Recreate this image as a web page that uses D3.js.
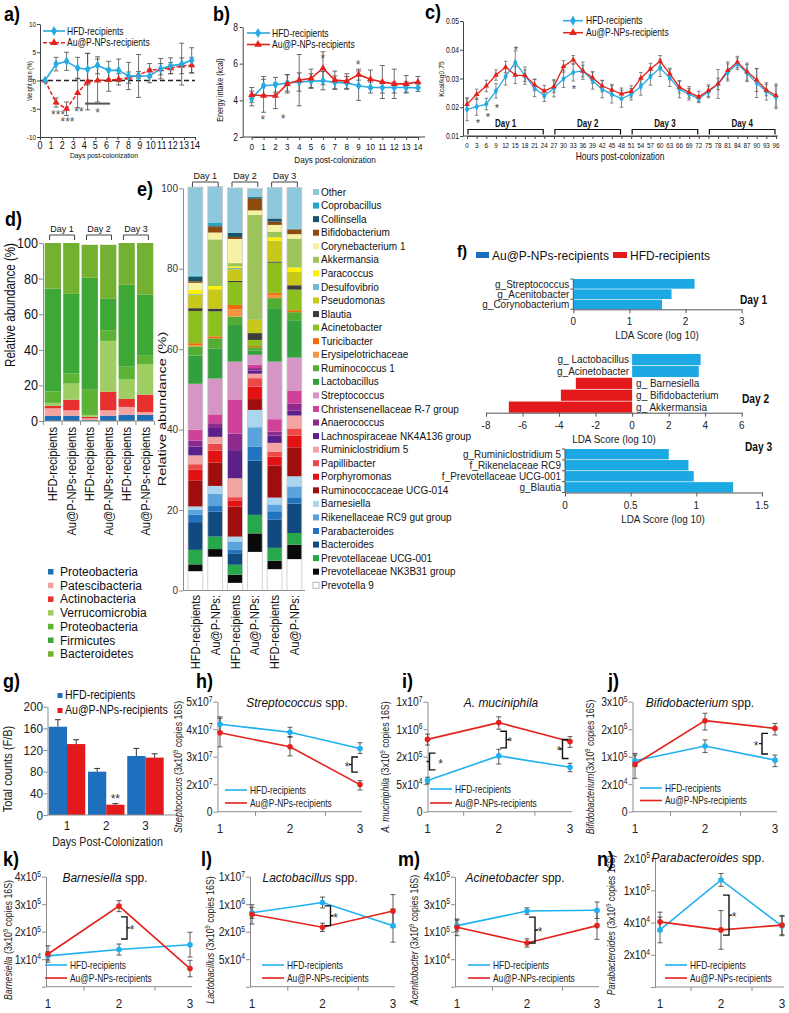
<!DOCTYPE html>
<html><head><meta charset="utf-8">
<script src="https://cdn.jsdelivr.net/npm/d3@7/dist/d3.min.js"></script>
<style>
html,body{margin:0;padding:0;background:#fff;}
svg{display:block;font-family:"Liberation Sans",Arial,Helvetica,sans-serif;}
</style></head><body>
<svg id="fig" width="789" height="1013" viewBox="0 0 789 1013"></svg>
<script>
// ================= DATA =================
// a) Weight gain (%)
const aDays   = [0.45,1.45,2.4,3.4,4.3,5.2,6.2,7.1,8.0,8.9,9.9,10.9,11.8,12.8,13.7];
const aHFD    = [0,2.9,3.4,2.2,2.0,2.7,1.8,1.8,0.8,0.8,0.8,2.1,2.6,2.9,3.6];
const aHFDerr = [0,1.2,1.6,1.9,2.8,1.5,1.6,2.0,2.4,3.8,1.2,1.8,1.4,3.7,2.2];
const aAu     = [0,-3.9,-5.0,-2.2,-0.2,0.0,0.1,0.2,0.5,1.0,1.8,2.0,2.2,2.6,2.7];
const aAuErr  = [0,0.8,1.2,2.6,5.0,3.8,2.0,1.0,1.0,0.6,1.2,1.0,1.0,1.4,1.4];
const aXTicks = [0,1,2,3,4,5,6,7,8,9,10,11,12,13,14];
const aYTicks = [-10,-5,0,5,10];
// b) Energy intake (kcal)
const bDays   = [0,1,2,3,4,5,6,7,8,9,10,11,12,13,14];
const bHFD    = [4.1,4.8,4.85,4.95,5.0,5.05,5.07,4.98,4.95,4.8,4.7,4.7,4.7,4.7,4.68];
const bHFDerr = [0.4,0.5,0.4,0.45,0.5,0.4,0.5,0.35,0.35,0.8,0.3,0.3,0.3,0.3,0.2];
const bAu     = [4.3,4.25,4.25,4.9,5.1,5.2,5.75,5.1,5.05,5.4,5.15,5.0,4.9,4.9,5.0];
const bAuErr  = [0.4,0.9,0.7,0.5,1.4,0.5,0.9,0.5,0.4,0.3,0.5,0.9,0.8,0.45,0.3];
const bYTicks = [2,4,6,8];
// c) Kcal/kg0.75 per 3 h
const cHours  = [0,3,6,9,12,15,18,21,24,27,30,33,36,39,42,45,48,51,54,57,60,63,66,69,72,75,78,81,84,87,90,93,96];
const cHFD    = [0.0193,0.0202,0.0211,0.0257,0.0307,0.0356,0.031,0.0267,0.024,0.0266,0.0299,0.0321,0.0327,0.0293,0.0263,0.0245,0.023,0.0245,0.0272,0.0307,0.0337,0.0302,0.0263,0.0245,0.023,0.0253,0.0281,0.0321,0.0351,0.0319,0.0284,0.0255,0.0235];
const cHFDerr = [0.004,0.003,0.002,0.0025,0.003,0.004,0.003,0.003,0.002,0.003,0.003,0.003,0.003,0.003,0.003,0.003,0.003,0.002,0.003,0.003,0.003,0.003,0.003,0.002,0.001,0.002,0.005,0.003,0.002,0.003,0.005,0.003,0.004];
const cAu     = [0.021,0.0245,0.0274,0.0312,0.034,0.0312,0.031,0.0278,0.0256,0.0272,0.0342,0.0365,0.0326,0.0303,0.0274,0.026,0.0247,0.0255,0.0301,0.0333,0.036,0.0316,0.027,0.0252,0.0236,0.0258,0.0281,0.0328,0.0357,0.0324,0.0295,0.026,0.0241];
const cAuErr  = [0.002,0.0018,0.002,0.0018,0.002,0.003,0.002,0.002,0.002,0.002,0.002,0.0015,0.002,0.002,0.002,0.002,0.002,0.002,0.002,0.002,0.002,0.002,0.002,0.002,0.002,0.002,0.002,0.003,0.002,0.003,0.004,0.002,0.004];
const cYTicks = [0.01,0.02,0.03,0.04,0.05];
const cDays   = ['Day 1','Day 2','Day 3','Day 4'];
const cDaySpan= [[0,24],[27,48],[51,72],[75,96]];
// d) phylum relative abundance (%), bottom -> top
const dBars    = ['HFD-recipients','Au@P-NPs-recipients','HFD-recipients','Au@P-NPs-recipients','HFD-recipients','Au@P-NPs-recipients'];
const dPhyla   = ['Proteobacteria','Patescibacteria','Actinobacteria','Verrucomicrobia','Proteobacteria','Firmicutes','Bacteroidetes'];
const dProteo  = [2.8,3,0.5,3,3.5,3.5];
const dPatesci = [4.3,3,1.0,3,4.4,1.5];
const dActino  = [1.4,6,0.8,10.5,4.5,9.8];
const dVerruco = [1.7,9,1.1,28.5,10.9,17.2];
const dProteo2 = [6.3,5.7,14.5,6,7.2,5];
const dFirmi   = [57.9,44.7,62.6,17.6,46,33.9];
const dBacter  = [25.6,28.6,18.5,30.4,23.5,29.1];
const dTicks   = [0,20,40,60,80,100];
// e) genus relative abundance (%), legend order (top of bar first)
const eGenera = ['Other','Coprobacillus','Collinsella','Bifidobacterium','Corynebacterium 1','Akkermansia','Paracoccus','Desulfovibrio','Pseudomonas','Blautia','Acinetobacter','Turicibacter','Erysipelotrichaceae','Ruminococcus 1','Lactobacillus','Streptococcus','Christensenellaceae R-7 group','Anaerococcus','Lachnospiraceae NK4A136 group','Ruminiclostridium 5','Papillibacter','Porphyromonas','Ruminococcaceae UCG-014','Barnesiella','Rikenellaceae RC9 gut group','Parabacteroides','Bacteroides','Prevotellaceae UCG-001','Prevotellaceae NK3B31 group','Prevotella 9'];
const eBarLabels = ['HFD-recipients','Au@P-NPs:','HFD-recipients','Au@P-NPs:','HFD-recipients','Au@P-NPs:'];
const eBar1 = [22.0,0.3,1.1,0.4,1.7,0,1.1,0.2,3.3,0.7,8.0,0.6,0.2,2.3,7.0,11.4,2.7,1.5,2.2,2.2,1.3,2.7,6.5,0.8,1.2,1.9,6.9,3.6,1.7,4.8];
const eBar2 = [8.9,0.7,0.3,1.5,1.7,11.6,0.8,0,4.8,0.7,6.2,0.5,0,2.5,7.5,8.9,2.2,1.2,2.2,1.7,1.7,3.0,5.8,2.0,3.0,1.4,6.2,3.1,1.9,8.4];
const eBar3 = [11.2,0,1.0,0.5,6.0,0.8,0.4,0.3,2.9,0.3,5.7,1.1,1.8,2.1,9.1,9.4,8.5,4.1,7.0,4.7,0.8,1.5,7.5,1.2,2.1,1.0,2.7,2.5,2.0,1.9];
const eBar4 = [2.2,0,0.4,2.9,1.1,26.1,0,0,3.3,1.7,1.5,0.3,0,0.8,1.1,2.5,0.8,0.6,0.8,1.1,2.1,3.1,2.7,4.3,4.8,3.5,13.5,4.6,4.6,9.6];
const eBar5 = [7.7,0,0.8,0.8,1.7,1.4,0.8,0,5.2,0.3,7.5,0.5,0.8,2.5,13.3,14.3,3.1,1.0,1.8,2.2,1.2,2.2,8.0,1.7,1.7,2.1,7.0,3.2,2.1,5.3];
const eBar6 = [10.2,0.2,0,1.2,1.1,7.2,1.1,0,3.3,1.1,5.1,0.5,0,2.0,9.3,8.3,3.1,1.8,1.2,3.2,1.8,2.9,7.2,2.5,2.9,1.4,7.3,2.9,3.6,7.8];
const eTicks = [0,20,40,60,80,100];
// f) LEfSe LDA scores (log 10)
const f1Names = ['g_Streptococcus','g_Acenitobacter','g_Corynobacterium'];
const f1Vals  = [2.16,1.75,1.58];
const f2Names = ['g_ Lactobacillus','g_Acinetobacter','g_ Barnesiella','g_ Bifidobacterium','g_ Akkermansia'];
const f2Vals  = [3.75,3.65,-3.08,-3.9,-6.75];
const f3Names = ['g_Ruminiclostridium 5','f_Rikenelaceae RC9','f_Prevotellaceae UCG-001','g_Blautia'];
const f3Vals  = [0.79,0.94,0.98,1.28];
// g) F/B ratio
const gDays   = ['1','2','3'];
const gHFD    = [163,80,109];
const gHFDerr = [13,6,14];
const gAu     = [131,19,106];
const gAuErr  = [8,2,7];
const gTicks  = [0,40,80,120,160,200];
// h) Streptococcus spp.
const hTicks = [0,2e7,3e7,4e7,5e7];
const hHFD = [4.18e7,3.89e7,3.3e7], hHFDlo=[3.91e7,3.71e7,3.12e7], hHFDhi=[4.45e7,4.07e7,3.51e7];
const hAu  = [3.87e7,3.36e7,1.97e7], hAulo=[3.36e7,3.03e7,1.58e7], hAuhi=[4.4e7,3.73e7,2.13e7];
// i) A. muciniphila
const iTicks = [0,5e4,2e5,1e6,1e7];
const iHFD = [7e4,2.24e5,1.42e5], iHFDlo=[5.2e4,1.6e5,1.18e5], iHFDhi=[8.8e4,4.16e5,1.64e5];
const iAu  = [7.04e5,3.16e6,6.4e5], iAulo=[5.4e5,1e6,4.72e5], iAuhi=[8.6e5,5.05e6,7.84e5];
// j) Bifidobacterium spp.
const jTicks = [0,2e4,1e5,2e5,3e5];
const jHFD = [8.8e4,1.39e5,9.0e4], jHFDlo=[7.1e4,1.15e5,7.1e4], jHFDhi=[1.12e5,1.61e5,1.06e5];
const jAu  = [7.8e4,2.31e5,2.03e5], jAulo=[3.7e4,1.97e5,1.79e5], jAuhi=[1.06e5,2.58e5,2.21e5];
// k) Barnesiella spp.
const kTicks = [0,1e4,2e5,3e5,4e5];
const kHFD = [3.3e4,7.7e4,1.1e5], kHFDlo=[9.7e3,3.85e4,2.5e4], kHFDhi=[6.1e4,1.15e5,1.96e5];
const kAu  = [4.6e4,2.93e5,6.6e3], kAulo=[8.9e3,2.73e5,3.6e3], kAuhi=[1.03e5,3.13e5,9.6e3];
// l) Lactobacillus spp.
const lTicks = [0,5e4,2e5,1e6,1e7];
const lHFD = [7.5e5,1.54e6,3.76e5], lHFDlo=[5.9e5,8.9e5,1.43e5], lHFDhi=[9.1e5,3.34e6,8.56e5];
const lAu  = [7.04e5,3.28e5,8.0e5], lAulo=[4.24e5,2.08e5,3.2e5], lAuhi=[9.84e5,4.48e5,4.15e6];
// m) Acinetobacter spp.
const mTicks = [0,1e4,1e5,3e5,4e5];
const mHFD = [1.44e5,2.5e5,2.56e5], mHFDlo=[1.04e5,2.26e5,1.96e5], mHFDhi=[1.84e5,2.74e5,3.08e5];
const mAu  = [1.32e5,6.3e4,1.44e5], mAulo=[8.7e4,4.96e4,7.5e4], mAuhi=[1.92e5,7.66e4,2.44e5];
// n) Parabacteroides spp.
const nTicks = [0,2e4,4e4,1e5,2e5];
const nHFD = [3.54e4,1.32e5,3.78e4], nHFDlo=[2.74e4,1.12e5,3.18e4], nHFDhi=[5.02e4,1.52e5,5.14e4];
const nAu  = [4.12e4,3.54e4,3.84e4], nAulo=[3.44e4,2.34e4,3.24e4], nAuhi=[5.92e4,6.22e4,5.32e4];

// ================= DRAWING =================
const svg = d3.select('#fig');
svg.append('rect').attr('width',789).attr('height',1013).attr('fill','#fff');
const C_BLUE='#27a9e1', C_RED='#e3231c', C_ERR='#4a4a4a', C_AX='#8c8c8c';

function T(g,x,y,s,o={}){
  let tr=`translate(${x},${y})`;
  if(o.r) tr+=` rotate(${o.r})`;
  if(o.c && o.c!==1) tr+=` scale(${o.c},1)`;
  const t=g.append('text').attr('transform',tr).attr('font-size',o.fs||10)
    .attr('text-anchor',o.a||'start').attr('fill',o.col||'#111');
  if(o.b) t.attr('font-weight','bold');
  if(o.i) t.attr('font-style','italic');
  const parts=Array.isArray(s)?s:[{t:String(s)}];
  let prevSup=false;
  parts.forEach(p=>{
    const sp=t.append('tspan').text(p.t);
    if(p.i) sp.attr('font-style','italic');
    if(p.sup){sp.attr('font-size','0.65em').attr('dy','-0.55em');}
    else if(prevSup){sp.attr('dy','0.36em');}
    prevSup=!!p.sup;
  });
  return t;
}
function styleAxis(sel,col,w){sel.selectAll('path,line').attr('stroke',col).attr('stroke-width',w||1);sel.selectAll('text').remove();return sel;}
function errBar(g,xx,y1,y2,cap,col,w){
  cap=cap||2.5;col=col||C_ERR;w=w||0.8;
  g.append('line').attr('x1',xx).attr('x2',xx).attr('y1',y1).attr('y2',y2).attr('stroke',col).attr('stroke-width',w);
  [y1,y2].forEach(yy=>g.append('line').attr('x1',xx-cap).attr('x2',xx+cap).attr('y1',yy).attr('y2',yy).attr('stroke',col).attr('stroke-width',w));
}
function mark(g,type,xx,yy,size,col){
  g.append('path').attr('d',d3.symbol().type(type).size(size)()).attr('transform',`translate(${xx},${yy})`).attr('fill',col);
}
function panelLabel(x,y,s,fs){T(svg,x,y,s,{fs:fs||20,b:true,c:0.9,col:'#000'});}

// ---------- a) ----------
{
  const g=svg.append('g');
  const x=d3.scaleLinear().domain([0,14]).range([40,195]);
  const y=d3.scaleLinear().domain([-10,10]).range([137,24]);
  styleAxis(g.append('g').attr('transform','translate(40,0)').call(d3.axisLeft(y).tickValues(aYTicks).tickSize(3).tickSizeOuter(0)),'#444');
  styleAxis(g.append('g').attr('transform','translate(0,137)').call(d3.axisBottom(x).tickValues(aXTicks).tickSize(3).tickSizeOuter(0)),'#444');
  aYTicks.forEach(v=>T(g,36,y(v)+3,v,{fs:8,a:'end',c:0.8}));
  aXTicks.forEach(v=>T(g,x(v),149,v,{fs:10,a:'middle',c:0.9}));
  g.append('line').attr('x1',x(0)).attr('x2',x(14)).attr('y1',y(0)).attr('y2',y(0)).attr('stroke','#222').attr('stroke-width',1.6).attr('stroke-dasharray','5,3');
  aDays.forEach((d,i)=>{
    if(aHFDerr[i]) errBar(g,x(d),y(aHFD[i]-aHFDerr[i]),y(aHFD[i]+aHFDerr[i]));
    if(aAuErr[i]) errBar(g,x(d),y(aAu[i]-aAuErr[i]),y(aAu[i]+aAuErr[i]));
  });
  const ln=d3.line().x((d,i)=>x(aDays[i])).y(d=>y(d));
  g.append('path').datum(aAu).attr('d',ln).attr('fill','none').attr('stroke',C_RED).attr('stroke-width',1.5).attr('stroke-dasharray','4,2');
  g.append('path').datum(aHFD).attr('d',ln).attr('fill','none').attr('stroke',C_BLUE).attr('stroke-width',1.6);
  aDays.forEach((d,i)=>{mark(g,d3.symbolTriangle,x(d),y(aAu[i]),22,C_RED);mark(g,d3.symbolDiamond,x(d),y(aHFD[i]),26,C_BLUE);});
  [[1.63,-5.68,'***'],[2.48,-6.93,'***'],[3.52,-5.15,'**'],[5.21,-5.33,'*']].forEach(s=>T(g,x(s[0]),y(s[1])+6,s[2],{fs:12,a:'middle',col:'#555'}));
  g.append('line').attr('x1',x(4.07)).attr('x2',x(6.32)).attr('y1',y(-4.09)).attr('y2',y(-4.09)).attr('stroke','#555').attr('stroke-width',2);
  g.append('line').attr('x1',43).attr('x2',65).attr('y1',31).attr('y2',31).attr('stroke',C_BLUE).attr('stroke-width',1.6);
  mark(g,d3.symbolDiamond,54,31,30,C_BLUE);
  g.append('line').attr('x1',43).attr('x2',65).attr('y1',42.7).attr('y2',42.7).attr('stroke',C_RED).attr('stroke-width',1.5).attr('stroke-dasharray','4,2');
  mark(g,d3.symbolTriangle,54,42.7,26,C_RED);
  T(g,67,34.5,'HFD-recipients',{fs:10,c:0.85});
  T(g,67,46.2,'Au@P-NPs-recipients',{fs:10,c:0.85});
  T(g,32,81,'Weight gain (%)',{r:-90,a:'middle',fs:7,c:0.8});
  T(g,104,158,'Days post-colonization',{fs:8,a:'middle',c:0.85});
  panelLabel(4,21,'a)');
}
// ---------- b) ----------
{
  const g=svg.append('g');
  const x=d3.scaleLinear().domain([0,14]).range([251.7,418]);
  const y=d3.scaleLinear().domain([2,8]).range([137,27]);
  styleAxis(g.append('g').attr('transform','translate(242.7,0)').call(d3.axisLeft(y).tickValues(bYTicks).tickSize(3).tickSizeOuter(0)),'#444');
  g.append('line').attr('x1',242.7).attr('x2',425).attr('y1',137).attr('y2',137).attr('stroke','#444');
  styleAxis(g.append('g').attr('transform','translate(0,137)').call(d3.axisBottom(x).tickValues(bDays).tickSize(3).tickSizeOuter(0)),'#444');
  bYTicks.forEach(v=>T(g,238,y(v)+3.5,v,{fs:10,a:'end',c:0.85}));
  bDays.forEach(v=>T(g,x(v),150,v,{fs:9.5,a:'middle',c:0.85}));
  bDays.forEach((d,i)=>{
    errBar(g,x(d),y(bHFD[i]-bHFDerr[i]),y(bHFD[i]+bHFDerr[i]));
    errBar(g,x(d),y(bAu[i]-bAuErr[i]),y(bAu[i]+bAuErr[i]));
  });
  const ln=d3.line().x((d,i)=>x(bDays[i])).y(d=>y(d));
  g.append('path').datum(bHFD).attr('d',ln).attr('fill','none').attr('stroke',C_BLUE).attr('stroke-width',1.6);
  g.append('path').datum(bAu).attr('d',ln).attr('fill','none').attr('stroke',C_RED).attr('stroke-width',1.6);
  bDays.forEach((d,i)=>{mark(g,d3.symbolDiamond,x(d),y(bHFD[i]),26,C_BLUE);mark(g,d3.symbolTriangle,x(d),y(bAu[i]),22,C_RED);});
  [[0.93,3.04],[2.64,3.09],[5.99,6.36],[8.96,6.04]].forEach(s=>T(g,x(s[0]),y(s[1])+6,'*',{fs:12,a:'middle',col:'#555'}));
  g.append('line').attr('x1',247).attr('x2',270).attr('y1',33).attr('y2',33).attr('stroke',C_BLUE).attr('stroke-width',1.6);
  mark(g,d3.symbolDiamond,258,33,30,C_BLUE);
  g.append('line').attr('x1',247).attr('x2',270).attr('y1',44.5).attr('y2',44.5).attr('stroke',C_RED).attr('stroke-width',1.6);
  mark(g,d3.symbolTriangle,258,44.5,26,C_RED);
  T(g,272,36.5,'HFD-recipients',{fs:10,c:0.85});
  T(g,272,48,'Au@P-NPs-recipients',{fs:10,c:0.85});
  T(g,223,90,'Energy intake (kcal)',{r:-90,a:'middle',fs:9,c:0.8});
  T(g,335,163,'Days post-colonization',{fs:9,a:'middle',c:0.9});
  panelLabel(213,21,'b)');
}
// ---------- c) ----------
{
  const g=svg.append('g');
  const x=d3.scaleLinear().domain([0,96]).range([467,776]);
  const y=d3.scaleLinear().domain([0.01,0.05]).range([136,21]);
  styleAxis(g.append('g').attr('transform','translate(463,0)').call(d3.axisLeft(y).tickValues(cYTicks).tickSize(3).tickSizeOuter(0)),'#444');
  g.append('line').attr('x1',463).attr('x2',778).attr('y1',136).attr('y2',136).attr('stroke','#444');
  styleAxis(g.append('g').attr('transform','translate(0,136)').call(d3.axisBottom(x).tickValues(cHours).tickSize(3).tickSizeOuter(0)),'#444');
  cYTicks.forEach(v=>T(g,459,y(v)+3,d3.format('.2f')(v),{fs:9,a:'end',c:0.75}));
  cHours.forEach(v=>T(g,x(v),148,v,{fs:8,a:'middle',c:0.78}));
  cHours.forEach((d,i)=>{
    errBar(g,x(d),y(cHFD[i]-cHFDerr[i]),y(cHFD[i]+cHFDerr[i]),1.8,'#555',0.7);
    errBar(g,x(d),y(cAu[i]-cAuErr[i]),y(cAu[i]+cAuErr[i]),1.8,'#555',0.7);
  });
  const ln=d3.line().x((d,i)=>x(cHours[i])).y(d=>y(d));
  g.append('path').datum(cHFD).attr('d',ln).attr('fill','none').attr('stroke',C_BLUE).attr('stroke-width',1.3);
  g.append('path').datum(cAu).attr('d',ln).attr('fill','none').attr('stroke',C_RED).attr('stroke-width',1.3);
  cHours.forEach((d,i)=>{mark(g,d3.symbolDiamond,x(d),y(cHFD[i]),16,C_BLUE);mark(g,d3.symbolTriangle,x(d),y(cAu[i]),14,C_RED);});
  [[3.4,0.0152],[6.5,0.0173],[9.3,0.0201],[15.2,0.0403],[33.2,0.027]].forEach(s=>T(g,x(s[0]),y(s[1])+5.5,'*',{fs:11,a:'middle',col:'#444'}));
  cDays.forEach((dn,i)=>{
    const a=x(cDaySpan[i][0])+1,b=x(cDaySpan[i][1])-1;
    g.append('path').attr('d',`M${a},134.5 L${a},129.5 L${b},129.5 L${b},134.5`).attr('fill','none').attr('stroke','#111').attr('stroke-width',1.2);
    T(g,(a+b)/2,126.5,dn,{fs:10,b:true,a:'middle',c:0.8});
  });
  g.append('line').attr('x1',563).attr('x2',583).attr('y1',20.7).attr('y2',20.7).attr('stroke',C_BLUE).attr('stroke-width',1.5);
  mark(g,d3.symbolDiamond,573,20.7,30,C_BLUE);
  g.append('line').attr('x1',563).attr('x2',583).attr('y1',32.7).attr('y2',32.7).attr('stroke',C_RED).attr('stroke-width',1.5);
  mark(g,d3.symbolTriangle,573,32.7,26,C_RED);
  T(g,586,24.2,'HFD-recipients',{fs:10,c:0.85});
  T(g,586,36.2,'Au@P-NPs-recipients',{fs:10,c:0.85});
  T(g,444,79,'Kcal/kg0.75',{r:-90,a:'middle',fs:8,c:0.85});
  T(g,620,160,'Hours post-colonization',{fs:10,a:'middle',c:0.85});
  panelLabel(425,19,'c)');
}
// ---------- d) ----------
{
  const g=svg.append('g');
  const dColors=['#1f6db5','#f4a3a3','#e8302e','#9ecd64','#5db335','#3ea836','#74b133'];
  const dSeries=[dProteo,dPatesci,dActino,dVerruco,dProteo2,dFirmi,dBacter];
  const rows=dBars.map((b,i)=>{const r={};dSeries.forEach((s,k)=>r[k]=s[i]);return r;});
  const stack=d3.stack().keys(d3.range(dSeries.length))(rows);
  const x=d3.scaleBand().domain(d3.range(dBars.length)).range([44,154]).paddingInner(0.12).paddingOuter(0.04);
  const y=d3.scaleLinear().domain([0,100]).range([421,243]);
  stack.forEach((layer,k)=>layer.forEach((seg,i)=>{
    g.append('rect').attr('x',x(i)).attr('width',x.bandwidth()).attr('y',y(seg[1])).attr('height',Math.max(0,y(seg[0])-y(seg[1]))).attr('fill',dColors[k]);
  }));
  styleAxis(g.append('g').attr('transform','translate(43,0)').call(d3.axisLeft(y).tickValues(dTicks).tickSize(4).tickSizeOuter(0)),C_AX);
  g.append('line').attr('x1',43).attr('x2',154).attr('y1',421).attr('y2',421).attr('stroke',C_AX);
  const bnd=d3.range(dBars.length+1).map(i=>i<dBars.length?x(i)-x.step()*x.paddingInner()/2:x(dBars.length-1)+x.bandwidth()+x.step()*x.paddingInner()/2);
  bnd.forEach(bx=>g.append('line').attr('x1',bx).attr('x2',bx).attr('y1',421).attr('y2',425).attr('stroke',C_AX));
  dTicks.forEach(v=>T(g,38,y(v)+5,v,{fs:14,a:'end',c:0.9}));
  dBars.forEach((b,i)=>T(g,x(i)+x.bandwidth()/2+4.5,427,b,{r:-90,a:'end',fs:12,c:0.93}));
  ['Day 1','Day 2','Day 3'].forEach((dn,k)=>{
    const a=x(2*k)+x.bandwidth()*0.3,b=x(2*k+1)+x.bandwidth()*0.7;
    g.append('path').attr('d',`M${a},240 L${a},235 L${b},235 L${b},240`).attr('fill','none').attr('stroke','#444').attr('stroke-width',1);
    T(g,(a+b)/2,231.5,dn,{fs:9,a:'middle'});
  });
  T(g,15,305,'Relative abundance  (%)',{r:-90,a:'middle',fs:14,c:0.83});
  dPhyla.forEach((p,k)=>{
    const yy=572+k*13.7;
    g.append('rect').attr('x',48).attr('y',yy-3).attr('width',5.5).attr('height',5.5).attr('fill',dColors[k]);
    T(g,60,yy+4,p,{fs:12});
  });
  panelLabel(5,226,'d)');
}
// ---------- e) ----------
{
  const g=svg.append('g');
  const eColors=['#8ec8dc','#1fa5c8','#17556a','#8c4a0c','#f6f1a3','#9cc45a','#fff200','#74b8d8','#c8c81a','#3c3c3c','#8dbf1e','#ef6c0c','#f29442','#52ae32','#32a03c','#d595c5','#d0429a','#8e2a8e','#5b2089','#f4a3a3','#ec4848','#e31212','#a00d0d','#acd6f0','#5aa3dc','#2374c0','#114a80','#27a84a','#0a0a0a','#ffffff'];
  const bars=[eBar1,eBar2,eBar3,eBar4,eBar5,eBar6];
  const keys=eGenera.map((n,i)=>i).reverse();
  const rows=bars.map(b=>{const r={};eGenera.forEach((n,i)=>r[i]=b[i]);return r;});
  const stack=d3.stack().keys(keys)(rows);
  const x=d3.scaleBand().domain(d3.range(6)).range([186,303.8]).paddingInner(0.25).paddingOuter(0.1);
  const y=d3.scaleLinear().domain([0,100]).range([590.5,188.3]);
  stack.forEach(layer=>{const k=layer.key;layer.forEach((seg,i)=>{
    const h=y(seg[0])-y(seg[1]); if(h<=0) return;
    g.append('rect').attr('x',x(i)).attr('width',x.bandwidth()).attr('y',y(seg[1])).attr('height',h).attr('fill',eColors[k]);
  });});
  bars.forEach((b,i)=>g.append('rect').attr('x',x(i)).attr('width',x.bandwidth()).attr('y',y(d3.sum(b))).attr('height',y(0)-y(d3.sum(b))).attr('fill','none').attr('stroke','#c8c8c8').attr('stroke-width',0.8));
  styleAxis(g.append('g').attr('transform','translate(183,0)').call(d3.axisLeft(y).tickValues(eTicks).tickSize(4).tickSizeOuter(0)),C_AX);
  g.append('line').attr('x1',183).attr('x2',305).attr('y1',590.5).attr('y2',590.5).attr('stroke',C_AX);
  eTicks.forEach(v=>T(g,178,y(v)+3.5,v,{fs:10,a:'end',col:'#333'}));
  eBarLabels.forEach((b,i)=>T(g,x(i)+x.bandwidth()/2+4.5,595,b,{r:-90,a:'end',fs:12,c:0.93}));
  ['Day 1','Day 2','Day 3'].forEach((dn,k)=>{
    const a=x(2*k)+x.bandwidth()*0.3,b=x(2*k+1)+x.bandwidth()*0.7;
    g.append('path').attr('d',`M${a},187 L${a},182 L${b},182 L${b},187`).attr('fill','none').attr('stroke','#444').attr('stroke-width',1);
    T(g,(a+b)/2,179,dn,{fs:9,a:'middle'});
  });
  T(g,166,409,'Relative abundance (%)',{r:-90,a:'middle',fs:10,c:1.45});
  eGenera.forEach((n,k)=>{
    const yy=192+k*13.56;
    g.append('rect').attr('x',313).attr('y',yy-3).attr('width',6).attr('height',6).attr('fill',eColors[k]).attr('stroke',k===eGenera.length-1?'#999':'none').attr('stroke-width',0.7);
    T(g,321,yy+3.6,n,{fs:10});
  });
  panelLabel(137,196,'e)');
}
// ---------- f) ----------
{
  const g=svg.append('g');
  const FB='#1ca9e3', FR='#e3191b';
  function lda(names,vals,dom,xr,yr,axisY,ticks,titleCx,dayLab,dayX,dayY,leftAxis){
    const x=d3.scaleLinear().domain(dom).range(xr);
    const y=d3.scaleBand().domain(names).range(yr).paddingInner(0.06);
    names.forEach((nm,i)=>{
      const v=vals[i];
      g.append('rect').attr('x',x(Math.min(0,v))).attr('width',Math.abs(x(v)-x(0))).attr('y',y(nm)).attr('height',y.bandwidth()).attr('fill',v>=0?FB:FR);
      if(v>=0) T(g,x(0)-(leftAxis?4:3),y(nm)+y.bandwidth()/2+3.8,nm,{fs:10.5,a:'end',c:0.95,col:'#222'});
      else T(g,x(0)+4,y(nm)+y.bandwidth()/2+3.8,nm,{fs:10.5,c:0.95,col:'#222'});
    });
    styleAxis(g.append('g').attr('transform',`translate(0,${axisY})`).call(d3.axisBottom(x).tickValues(ticks).tickSize(4).tickSizeOuter(0)),'#555');
    ticks.forEach(t=>T(g,x(t),axisY+16,t,{fs:11,a:'middle',c:0.9,col:'#222'}));
    if(leftAxis){
      g.append('line').attr('x1',x(0)).attr('x2',x(0)).attr('y1',yr[0]).attr('y2',yr[1]).attr('stroke','#555');
      d3.range(names.length+1).forEach(i=>{const yy=yr[0]+i*(yr[1]-yr[0])/names.length;g.append('line').attr('x1',x(0)-3).attr('x2',x(0)).attr('y1',yy).attr('y2',yy).attr('stroke','#555');});
    }
    T(g,titleCx,axisY+30,'LDA Score (log 10)',{fs:11,a:'middle',c:0.9,col:'#222'});
    T(g,dayX,dayY,dayLab,{fs:12,b:true,c:0.85});
  }
  lda(f1Names,f1Vals,[0,3],[573.3,741.7],[279,309.3],309.3,[0,1,2,3],657,'Day 1',740,304,true);
  lda(f2Names,f2Vals,[-8,6],[486,741.7],[354,412.7],412.7,[-8,-6,-4,-2,0,2,4,6],614,'Day 2',742,403,false);
  lda(f3Names,f3Vals,[0,1.5],[565,762],[449,492.5],492.5,[0,0.5,1,1.5],663,'Day 3',745,451,true);
  g.append('rect').attr('x',476).attr('y',252).attr('width',13).attr('height',6).attr('fill','#1b6fbf');
  T(g,492,260,'Au@P-NPs-recipients',{fs:12});
  g.append('rect').attr('x',613).attr('y',252).attr('width',14).attr('height',6).attr('fill',FR);
  T(g,630,260,'HFD-recipients',{fs:12});
  panelLabel(457,257,'f)',17);
}
// ---------- g) ----------
{
  const g=svg.append('g');
  const GB='#1f6fbf', GR='#e3191b';
  const x0=d3.scaleBand().domain(gDays).range([48,164.5]).paddingInner(0.07).paddingOuter(0.02);
  const x1=d3.scaleBand().domain(['HFD','Au']).range([0,x0.bandwidth()]);
  const y=d3.scaleLinear().domain([0,200]).range([815,706.7]);
  gDays.forEach((d,i)=>{
    [[gHFD,gHFDerr,'HFD',GB],[gAu,gAuErr,'Au',GR]].forEach(([v,e,k,col])=>{
      const bx=x0(d)+x1(k);
      g.append('rect').attr('x',bx).attr('width',x1.bandwidth()).attr('y',y(v[i])).attr('height',y(0)-y(v[i])).attr('fill',col);
      const cx=bx+x1.bandwidth()/2;
      g.append('line').attr('x1',cx).attr('x2',cx).attr('y1',y(v[i])).attr('y2',y(v[i]+e[i])).attr('stroke','#333');
      g.append('line').attr('x1',cx-3).attr('x2',cx+3).attr('y1',y(v[i]+e[i])).attr('y2',y(v[i]+e[i])).attr('stroke','#333');
    });
  });
  styleAxis(g.append('g').attr('transform','translate(47.5,0)').call(d3.axisLeft(y).tickValues(gTicks).tickSize(4).tickSizeOuter(0)),C_AX);
  g.append('line').attr('x1',47.5).attr('x2',177.5).attr('y1',815).attr('y2',815).attr('stroke',C_AX);
  gTicks.forEach(v=>T(g,43,y(v)+4.5,v,{fs:13,a:'end',c:0.9,col:'#222'}));
  gDays.forEach(d=>T(g,x0(d)+x0.bandwidth()/2,830,d,{fs:13,a:'middle',c:0.9,col:'#222'}));
  T(g,x0('2')+x1('Au')+x1.bandwidth()/2,803,'**',{fs:12,a:'middle',col:'#333'});
  T(g,107.5,846,'Days Post-Colonization',{fs:13,a:'middle',c:0.82,col:'#222'});
  T(g,12,769,'Total counts  (F/B)',{r:-90,a:'middle',fs:13,c:0.85,col:'#222'});
  g.append('rect').attr('x',57.5).attr('y',693).attr('width',5).attr('height',5).attr('fill',GB);
  T(g,65,698.5,'HFD-recipients',{fs:12,c:0.88});
  g.append('rect').attr('x',57.5).attr('y',708).attr('width',5).attr('height',5).attr('fill',GR);
  T(g,65,713.5,'Au@P-NPs-recipients',{fs:12,c:0.88});
  panelLabel(3,688,'g)');
}
// ---------- h-n line panels ----------
const LB='#1fb0ef', LR='#e3231c';
function linePanel(p){
  const g=svg.append('g');
  const n=p.ticks.length, step=(p.y0-p.yTop)/(n-1);
  const y=d3.scaleLinear().domain(p.ticks).range(p.ticks.map((v,i)=>p.y0-i*step));
  const x=d3.scaleLinear().domain([1,3]).range([p.x1,p.x3]);
  styleAxis(g.append('g').attr('transform',`translate(${p.ax},0)`).call(d3.axisLeft(y).tickValues(p.ticks).tickSize(4).tickSizeOuter(0)),C_AX);
  g.append('line').attr('x1',p.ax).attr('x2',p.x3+2).attr('y1',p.y0).attr('y2',p.y0).attr('stroke',C_AX);
  const xa=g.append('g').attr('transform',`translate(0,${p.y0})`).call(d3.axisBottom(x).tickValues([1.5,2.5]).tickSize(4).tickSizeOuter(0));
  xa.select('.domain').remove(); styleAxis(xa,C_AX);
  p.ticks.forEach((v,i)=>{
    if(i===0 && !p.zero) return;
    const lab=p.labs[i];
    const parts=Array.isArray(lab)?[{t:lab[0]},{t:lab[1],sup:true}]:[{t:lab}];
    T(g,p.ax-5,y(v)+4.5,parts,{fs:13,a:'end',c:0.8,col:'#222'});
  });
  [1,2,3].forEach(d=>T(g,x(d),p.y0+21,d,{fs:13,a:'middle',c:0.9,col:'#222'}));
  const series=[[p.hfd,p.hlo,p.hhi,LB],[p.au,p.alo,p.ahi,LR]];
  series.forEach(([v,lo,hi,col])=>{
    v.forEach((d,i)=>errBar(g,x(i+1),y(lo[i]),y(hi[i]),2.5,'#333',0.8));
  });
  series.forEach(([v,lo,hi,col])=>{
    g.append('path').datum(v).attr('d',d3.line().x((d,i)=>x(i+1)).y(d=>y(d))).attr('fill','none').attr('stroke',col).attr('stroke-width',1.6);
    v.forEach((d,i)=>g.append('circle').attr('cx',x(i+1)).attr('cy',y(d)).attr('r',2.8).attr('fill',col));
  });
  (p.sig||[]).forEach(s=>{
    const bx=x(s.day)+s.dx, ya=y(s.v1), yb=y(s.v2), arm=6*s.dir;
    g.append('path').attr('d',`M${bx+arm},${ya} L${bx},${ya} L${bx},${yb} L${bx+arm},${yb} M${bx},${(ya+yb)/2} L${bx-3*s.dir},${(ya+yb)/2}`).attr('fill','none').attr('stroke','#111').attr('stroke-width',1.4);
    T(g,x(s.day)+s.sx,(ya+yb)/2+6,'*',{fs:12,a:'middle',col:'#333'});
  });
  T(g,p.tcx,p.ty,[{t:p.genus,i:true},{t:p.spp}],{fs:13,a:'middle',c:0.92,col:'#111'});
  T(g,p.ylx,p.ylcy,[{t:p.ygenus,i:true},{t:p.ysep+'(3x10'},{t:'9',sup:true},{t:' copies 16S)'}],{r:-90,a:'middle',fs:11,c:0.8,col:'#222'});
  [[LB,'HFD-recipients',0],[LR,'Au@P-NPs-recipients',1]].forEach(([col,lab,k])=>{
    const yy=p.ly+k*p.lsp;
    g.append('line').attr('x1',p.lx).attr('x2',p.lx+22).attr('y1',yy).attr('y2',yy).attr('stroke',col).attr('stroke-width',1.6);
    T(g,p.lx+25,yy+3.5,lab,{fs:10.5,c:0.8,col:'#222'});
  });
}
linePanel({ax:217.5,x1:220,x3:360,y0:811.7,yTop:701.7,zero:true,ticks:hTicks,labs:['0',['2x10','7'],['3x10','7'],['4x10','7'],['5x10','7']],
  hfd:hHFD,hlo:hHFDlo,hhi:hHFDhi,au:hAu,alo:hAulo,ahi:hAuhi,
  sig:[{day:3,v1:2.99e7,v2:2.44e7,dx:-8,dir:1,sx:-13}],
  genus:'Streptococcus',spp:' spp.',tcx:297,ty:707,ygenus:'Streptococcus',ysep:' ',ylx:182,ylcy:767,lx:225,ly:790,lsp:13});
linePanel({ax:427.5,x1:427.5,x3:570,y0:811.7,yTop:701.7,zero:true,ticks:iTicks,labs:['0',['5x10','4'],['2x10','5'],['1x10','6'],['1x10','7']],
  hfd:iHFD,hlo:iHFDlo,hhi:iHFDhi,au:iAu,alo:iAulo,ahi:iAuhi,
  sig:[{day:1,v1:3.04e5,v2:1.28e5,dx:2,dir:1,sx:13},{day:2,v1:9.4e5,v2:4.56e5,dx:7.5,dir:-1,sx:11},{day:3,v1:7.0e5,v2:1.9e5,dx:-7.5,dir:1,sx:-11}],
  genus:'A. muciniphila',spp:'',tcx:501,ty:707,ygenus:'A. muciniphila',ysep:'  ',ylx:389,ylcy:767,lx:430,ly:789,lsp:14});
linePanel({ax:632.5,x1:635,x3:775,y0:811.7,yTop:701.7,zero:true,ticks:jTicks,labs:['0',['2x10','4'],['1x10','5'],['2x10','5'],['3x10','5']],
  hfd:jHFD,hlo:jHFDlo,hhi:jHFDhi,au:jAu,alo:jAulo,ahi:jAuhi,
  sig:[{day:3,v1:1.85e5,v2:1.1e5,dx:-13,dir:1,sx:-19}],
  genus:'Bifidobacterium',spp:' spp.',tcx:700,ty:707,ygenus:'Bifidobacterium',ysep:'',ylx:594,ylcy:767,lx:640,ly:788,lsp:12.5});
linePanel({ax:46,x1:48,x3:190,y0:986.7,yTop:876.7,zero:false,ticks:kTicks,labs:['0',['1x10','4'],['2x10','5'],['3x10','5'],['4x10','5']],
  hfd:kHFD,hlo:kHFDlo,hhi:kHFDhi,au:kAu,alo:kAulo,ahi:kAuhi,
  sig:[{day:2,v1:2.54e5,v2:1.5e5,dx:8,dir:-1,sx:13}],
  genus:'Barnesiella',spp:' spp.',tcx:105,ty:882,ygenus:'Barnesiella',ysep:' ',ylx:12,ylcy:940,lx:45,ly:965,lsp:13});
linePanel({ax:250,x1:252,x3:393,y0:986.7,yTop:876.7,zero:false,ticks:lTicks,labs:['0',['5x10','4'],['2x10','5'],['1x10','6'],['1x10','7']],
  hfd:lHFD,hlo:lHFDlo,hhi:lHFDhi,au:lAu,alo:lAulo,ahi:lAuhi,
  sig:[{day:2,v1:9.5e5,v2:3.76e5,dx:8,dir:-1,sx:13}],
  genus:'Lactobacillus',spp:' spp.',tcx:310,ty:882,ygenus:'Lactobacillus',ysep:' ',ylx:214,ylcy:940,lx:262,ly:965,lsp:13});
linePanel({ax:455,x1:457,x3:597,y0:986.7,yTop:876.7,zero:false,ticks:mTicks,labs:['0',['1x10','4'],['1x10','5'],['3x10','5'],['4x10','5']],
  hfd:mHFD,hlo:mHFDlo,hhi:mHFDhi,au:mAu,alo:mAulo,ahi:mAuhi,
  sig:[{day:2,v1:2.06e5,v2:6.3e4,dx:8,dir:-1,sx:13}],
  genus:'Acinetobacter',spp:' spp.',tcx:515,ty:882,ygenus:'Acenitobacter',ysep:' ',ylx:418,ylcy:940,lx:468,ly:965,lsp:13});
linePanel({ax:655,x1:660,x3:782,y0:987,yTop:858,zero:false,ticks:nTicks,labs:['0',['2x10','4'],['4x10','4'],['1x10','5'],['2x10','5']],
  hfd:nHFD,hlo:nHFDlo,hhi:nHFDhi,au:nAu,alo:nAulo,ahi:nAuhi,
  sig:[{day:2,v1:9.1e4,v2:3.22e4,dx:8,dir:-1,sx:13}],
  genus:'Parabacteroides',spp:' spp.',tcx:708,ty:862,ygenus:'Parabacteroides',ysep:' ',ylx:615,ylcy:925,lx:665,ly:965,lsp:13});
panelLabel(196,688,'h)');
panelLabel(402,688,'i)');
panelLabel(608,688,'j)');
panelLabel(3,866,'k)');
panelLabel(201,866,'l)');
panelLabel(398,866,'m)');
panelLabel(597,866,'n)');
</script></body></html>
